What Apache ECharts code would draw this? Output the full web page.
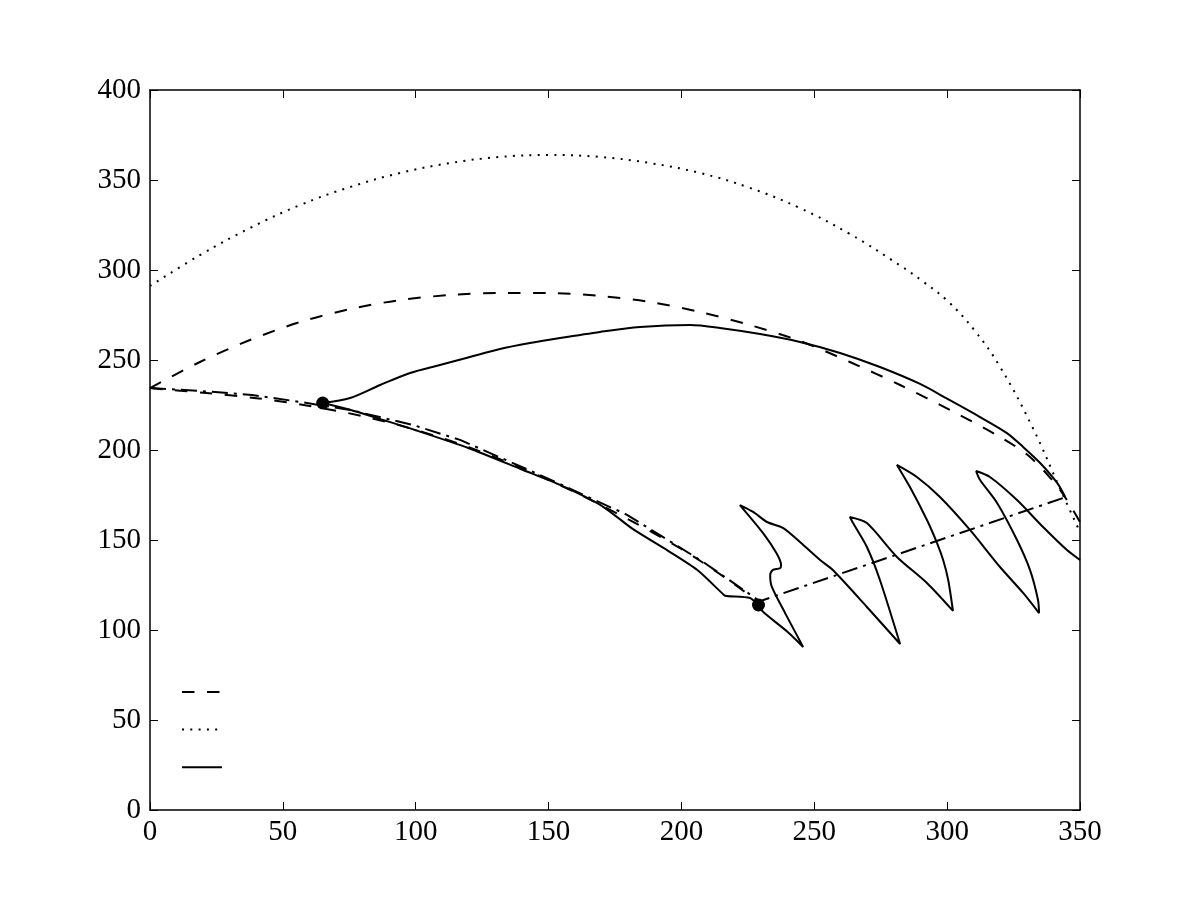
<!DOCTYPE html>
<html>
<head>
<meta charset="utf-8">
<title>trajectories</title>
<script src="https://cdn.jsdelivr.net/npm/echarts@6/dist/echarts.min.js"></script>
<style>
  html, body { margin: 0; padding: 0; background: #fff; }
  #main { width: 1200px; height: 900px; }
</style>
</head>
<body>
<div id="main"></div>
<script>
// axis ticks
var xTicks = [0, 50, 100, 150, 200, 250, 300, 350];
var yTicks = [0, 50, 100, 150, 200, 250, 300, 350, 400];

// dashed arc (upper) and its lower twin
var dashedUpper = [[0,234.4],[18.8,248.9],[37.6,261.1],[56.5,271.1],[75.3,278.3],[94.1,283.3],[112.9,286.1],[131.7,287.2],[150.5,287.2],[169.4,285.6],[188.2,282.2],[207,276.7],[225.8,269.4],[244.6,260.6],[263.4,248.9],[282.3,236.1],[301.1,222.2],[319.9,207.2],[331.2,196.1],[342.5,177.8],[350,160]];
var dashedLower = [[0,234.4],[20,231.8],[40,228.8],[60,224.5],[80,218.8],[100,211.2],[120,201.5],[140,189.8],[160,176.5],[180,161.5],[200,145],[217,128.5],[229,115.5]];

// dotted arc
var dotted = [[0,291.1],[18.8,308.3],[37.6,323.3],[56.5,336.1],[75.3,346.1],[94.1,353.9],[112.9,359.4],[131.7,362.8],[150.5,363.9],[169.4,362.8],[188.2,359.4],[207,353.9],[225.8,345.6],[244.6,334.4],[263.4,320],[282.3,302.5],[291,293.5],[300,283],[310,267],[320,246],[332,213],[342.5,178.5],[349.5,156]];

// solid path: upper branch from first marker
var solidUpper = [[65,226.1],[75.3,228.9],[86.6,236.1],[97.9,242.8],[109.1,247.2],[120.4,251.7],[131.7,256.1],[143,259.4],[154.3,262.2],[169.4,265.6],[184.4,268.3],[203.2,269.4],[214.5,267.8],[229.6,264.4],[244.6,260],[259.7,253.9],[274.7,246.1],[289.8,236.7],[300,228.5],[312.4,218.3],[322.5,209.4],[328.6,201.7],[335,192.8],[341.4,181.7],[344.4,173.9]];

// solid path: lower branch and the loops
var solidLower = [[65,226.1],[75,222.5],[87.7,216.7],[100,211],[120,201],[140.4,188.9],[154.3,180.6],[170,169],[181.8,156],[195,144],[206,133.3],[216,119.5],[217,118.9],[225.8,117.8],[228.8,113.9],[230.8,110],[240,98.9],[245.8,90.6],
  [239.1,109.2],[234,124.1],[233.4,130.6],[234.3,133.3],[237.1,134.3],[237.5,136.1],[235.8,142.6],[230.8,153.7],[222,169.4],
  [227,165.6],[232.2,160],[238.2,156.7],[244.6,148.9],[252.2,138.9],[257,133.3],[269.8,112.8],[282.3,92.2],
  [274.7,127.8],[269.8,146.1],[264.6,159.4],[263.4,162.8],
  [269.8,159.4],[281.1,140.6],[292.4,126.1],[302.2,110.6],
  [300.4,127.8],[298.5,138.9],[296.2,148.3],[292.4,161.1],[286,179.4],[281.1,191.7],
  [288.6,185],[297.3,173.9],[308.6,155.6],[319.9,135],[328.6,120.6],[334.6,109.4],
  [334.2,116.7],[331.2,133.3],[326.3,150],[318.8,170.6],[312.4,183.3],[310.9,188.3],
  [316.1,185],[326.3,172.2],[336.1,157.2],[345.1,144.4],[350,138.9]];

// dash-dot guide
var dashDot = [[0,234.4],[18.8,232.8],[38.4,230.6],[56.5,226.7],[75.3,222.2],[99,213.9],[116.7,205.6],[146.8,186.1],[179.5,164],[208,138],[229.5,116],[343.6,173.3]];

// markers
var markers = [[65,226.1],[229,113.9]];

var chart = echarts.init(document.getElementById('main'));
var lw = 2;
function lineSeries(name, data, type, smooth) {
  return {
    name: name, type: 'line', data: data, symbol: 'none', smooth: smooth,
    lineStyle: { color: '#000', width: lw, type: type },
    itemStyle: { color: '#000' },
    animation: false, z: 3
  };
}
var serif = 'Liberation Serif';
var axisCommon = {
  type: 'value',
  splitLine: { show: false },
  axisLine: { show: true, onZero: false, lineStyle: { color: '#000', width: 1.5 } },
  axisTick: { show: true, inside: true, length: 8, lineStyle: { color: '#000', width: 1 } }
};

chart.setOption({
  backgroundColor: '#fff',
  animation: false,
  grid: { left: 150, right: 120, top: 90, bottom: 90 },
  legend: {
    data: ['dashed', 'dotted', 'solid'],
    orient: 'vertical',
    left: 176, top: 680,
    itemWidth: 40, itemHeight: 14, itemGap: 25,
    itemStyle: { opacity: 0 },
    formatter: function () { return ''; },
    selectedMode: false
  },
  xAxis: [
    Object.assign({}, axisCommon, {
      min: 0, max: 350, interval: 50, position: 'bottom',
      axisLabel: { color: '#000', fontFamily: serif, fontSize: 29, margin: 8,
        formatter: function (v) { return xTicks.indexOf(v) >= 0 ? String(v) : ''; } }
    }),
    Object.assign({}, axisCommon, {
      min: 0, max: 350, interval: 50, position: 'top', axisLabel: { show: false }
    })
  ],
  yAxis: [
    Object.assign({}, axisCommon, {
      min: 0, max: 400, interval: 50, position: 'left',
      axisLabel: { color: '#000', fontFamily: serif, fontSize: 29, margin: 9,
        formatter: function (v) { return yTicks.indexOf(v) >= 0 ? String(v) : ''; } }
    }),
    Object.assign({}, axisCommon, {
      min: 0, max: 400, interval: 50, position: 'right', axisLabel: { show: false }
    })
  ],
  series: [
    lineSeries('dashed', dashedUpper, [12.5, 12.5], 0.3),
    lineSeries('dotted', dotted, [2, 6.3], 0.4),
    lineSeries('solid', solidUpper, 'solid', 0.3),
    lineSeries('dashed-lower', dashedLower, [12.5, 12.5], 0.3),
    lineSeries('solid-lower', solidLower, 'solid', 0.25),
    lineSeries('dashdot', dashDot, [16, 6, 3, 6], 0),
    {
      name: 'markers', type: 'scatter', data: markers, symbol: 'circle', symbolSize: 13,
      itemStyle: { color: '#000', opacity: 1 }, z: 5, animation: false
    }
  ]
});
</script>
</body>
</html>
